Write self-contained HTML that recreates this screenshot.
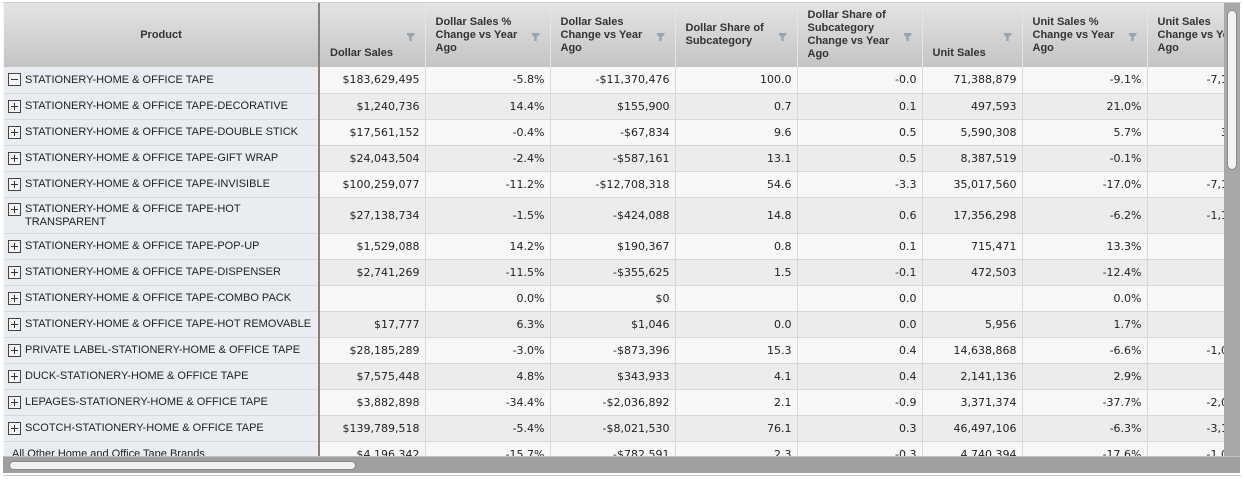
<!DOCTYPE html>
<html><head><meta charset="utf-8"><style>
*{box-sizing:border-box;margin:0;padding:0}
body{width:1244px;height:481px;background:#fff;position:relative;overflow:hidden;font-family:"Liberation Sans",Arial,sans-serif}
#wrap{position:absolute;left:3px;top:3px;width:1221px;height:453px;overflow:hidden;background:#f5f5f5}
table{border-collapse:collapse;table-layout:fixed;position:absolute;left:1px;top:0;width:1268px}
th{height:64px;background:linear-gradient(#e4e4e4,#c4c4c4);border-right:1px solid #e6e6e6;font-size:11px;font-weight:bold;color:#333;text-align:left;padding:0 22px 0 10px;line-height:13px;position:relative;vertical-align:middle}
th.b{vertical-align:bottom;padding-bottom:7px}
th.p{text-align:center;border-right:2px solid #8a7f76;padding:0}
th .f{position:absolute;right:10px;top:30px;width:8px;height:8px;background:#9aa4ae;clip-path:polygon(0 0,100% 0,100% 20%,65% 50%,65% 100%,35% 100%,35% 50%,0 20%)}
td{border-bottom:1px solid #d8d8d8;border-right:1px solid #d8d8d8;font-family:"DejaVu Sans",Verdana,sans-serif;font-size:11px;color:#222;text-align:right;padding:0 5px;white-space:nowrap;overflow:hidden;vertical-align:middle}
td.p{font-family:"Liberation Sans",Arial,sans-serif;text-align:left;background:#e9edf2;border-right:2px solid #8a7f76;padding:1px 4px 0 21px;position:relative;line-height:13px;font-size:11px}
td.p i{position:absolute;left:4px;top:6px;width:13px;height:13px;border:1px solid #444;background:#f4f4f4}
td.p i:before{content:"";position:absolute;left:2px;top:5px;width:7px;height:1px;background:#333}
td.p i.pl:after{content:"";position:absolute;left:5px;top:2px;width:1px;height:7px;background:#333}
tr{height:26px}
tr.o td{background:#f7f7f7}
tr.e td{background:#ececec}
tr td.p{background:#e9edf2}
tr.t{height:36px}
#vs{position:absolute;left:1224px;top:3px;width:16px;height:453px;background:#a8a8a8}
#vs div{position:absolute;left:3px;top:7px;width:10px;height:160px;background:#f2f2f2;border:1px solid #888;border-radius:5px}
#hs{position:absolute;left:3px;top:456px;width:1237px;height:17px;background:#a0a0a0;border-top:1px solid #c0c0c0}
#hs div{position:absolute;left:6px;top:4px;width:347px;height:9px;background:#f2f2f2;border:1px solid #888;border-radius:5px}
#bl{position:absolute;left:3px;top:475px;width:1238px;height:1px;background:#ccc}
#br{position:absolute;left:3px;top:2px;width:1238px;height:1px;background:#ccc}
</style></head><body>
<div id="br"></div>
<div id="wrap"><table>
<colgroup><col style="width:315px"><col style="width:106px"><col style="width:125px"><col style="width:125px"><col style="width:122px"><col style="width:125px"><col style="width:100px"><col style="width:125px"><col style="width:125px"></colgroup>
<tr style="height:64px"><th class="p">Product</th><th class="b">Dollar Sales<span class="f"></span></th><th>Dollar Sales %<br>Change vs Year<br>Ago<span class="f"></span></th><th>Dollar Sales<br>Change vs Year<br>Ago<span class="f"></span></th><th>Dollar Share of<br>Subcategory<span class="f"></span></th><th>Dollar Share of<br>Subcategory<br>Change vs Year<br>Ago<span class="f"></span></th><th class="b">Unit Sales<span class="f"></span></th><th>Unit Sales %<br>Change vs Year<br>Ago<span class="f"></span></th><th>Unit Sales<br>Change vs Year<br>Ago</th></tr>
<tr class="o"><td class="p"><i></i>STATIONERY-HOME &amp; OFFICE TAPE</td><td>$183,629,495</td><td>-5.8%</td><td>-$11,370,476</td><td>100.0</td><td>-0.0</td><td>71,388,879</td><td>-9.1%</td><td>-7,144,553</td></tr>
<tr class="e"><td class="p"><i class="pl"></i>STATIONERY-HOME &amp; OFFICE TAPE-DECORATIVE</td><td>$1,240,736</td><td>14.4%</td><td>$155,900</td><td>0.7</td><td>0.1</td><td>497,593</td><td>21.0%</td><td>86,412</td></tr>
<tr class="o"><td class="p"><i class="pl"></i>STATIONERY-HOME &amp; OFFICE TAPE-DOUBLE STICK</td><td>$17,561,152</td><td>-0.4%</td><td>-$67,834</td><td>9.6</td><td>0.5</td><td>5,590,308</td><td>5.7%</td><td>301,222</td></tr>
<tr class="e"><td class="p"><i class="pl"></i>STATIONERY-HOME &amp; OFFICE TAPE-GIFT WRAP</td><td>$24,043,504</td><td>-2.4%</td><td>-$587,161</td><td>13.1</td><td>0.5</td><td>8,387,519</td><td>-0.1%</td><td>-5,822</td></tr>
<tr class="o"><td class="p"><i class="pl"></i>STATIONERY-HOME &amp; OFFICE TAPE-INVISIBLE</td><td>$100,259,077</td><td>-11.2%</td><td>-$12,708,318</td><td>54.6</td><td>-3.3</td><td>35,017,560</td><td>-17.0%</td><td>-7,166,431</td></tr>
<tr class="e t"><td class="p"><i class="pl" style="top:5px"></i>STATIONERY-HOME &amp; OFFICE TAPE-HOT<br>TRANSPARENT</td><td>$27,138,734</td><td>-1.5%</td><td>-$424,088</td><td>14.8</td><td>0.6</td><td>17,356,298</td><td>-6.2%</td><td>-1,143,212</td></tr>
<tr class="o"><td class="p"><i class="pl"></i>STATIONERY-HOME &amp; OFFICE TAPE-POP-UP</td><td>$1,529,088</td><td>14.2%</td><td>$190,367</td><td>0.8</td><td>0.1</td><td>715,471</td><td>13.3%</td><td>84,021</td></tr>
<tr class="e"><td class="p"><i class="pl"></i>STATIONERY-HOME &amp; OFFICE TAPE-DISPENSER</td><td>$2,741,269</td><td>-11.5%</td><td>-$355,625</td><td>1.5</td><td>-0.1</td><td>472,503</td><td>-12.4%</td><td>-66,912</td></tr>
<tr class="o"><td class="p"><i class="pl"></i>STATIONERY-HOME &amp; OFFICE TAPE-COMBO PACK</td><td></td><td>0.0%</td><td>$0</td><td></td><td>0.0</td><td></td><td>0.0%</td><td></td></tr>
<tr class="e"><td class="p"><i class="pl"></i>STATIONERY-HOME &amp; OFFICE TAPE-HOT REMOVABLE</td><td>$17,777</td><td>6.3%</td><td>$1,046</td><td>0.0</td><td>0.0</td><td>5,956</td><td>1.7%</td><td>99</td></tr>
<tr class="o"><td class="p"><i class="pl"></i>PRIVATE LABEL-STATIONERY-HOME &amp; OFFICE TAPE</td><td>$28,185,289</td><td>-3.0%</td><td>-$873,396</td><td>15.3</td><td>0.4</td><td>14,638,868</td><td>-6.6%</td><td>-1,032,118</td></tr>
<tr class="e"><td class="p"><i class="pl"></i>DUCK-STATIONERY-HOME &amp; OFFICE TAPE</td><td>$7,575,448</td><td>4.8%</td><td>$343,933</td><td>4.1</td><td>0.4</td><td>2,141,136</td><td>2.9%</td><td>60,112</td></tr>
<tr class="o"><td class="p"><i class="pl"></i>LEPAGES-STATIONERY-HOME &amp; OFFICE TAPE</td><td>$3,882,898</td><td>-34.4%</td><td>-$2,036,892</td><td>2.1</td><td>-0.9</td><td>3,371,374</td><td>-37.7%</td><td>-2,039,215</td></tr>
<tr class="e"><td class="p"><i class="pl"></i>SCOTCH-STATIONERY-HOME &amp; OFFICE TAPE</td><td>$139,789,518</td><td>-5.4%</td><td>-$8,021,530</td><td>76.1</td><td>0.3</td><td>46,497,106</td><td>-6.3%</td><td>-3,141,812</td></tr>
<tr class="o"><td class="p" style="padding-left:8px">All Other Home and Office Tape Brands</td><td>$4,196,342</td><td>-15.7%</td><td>-$782,591</td><td>2.3</td><td>-0.3</td><td>4,740,394</td><td>-17.6%</td><td>-1,012,519</td></tr>
</table></div>
<div id="vs"><div></div></div>
<div id="hs"><div></div></div>
<div id="bl"></div>
</body></html>
